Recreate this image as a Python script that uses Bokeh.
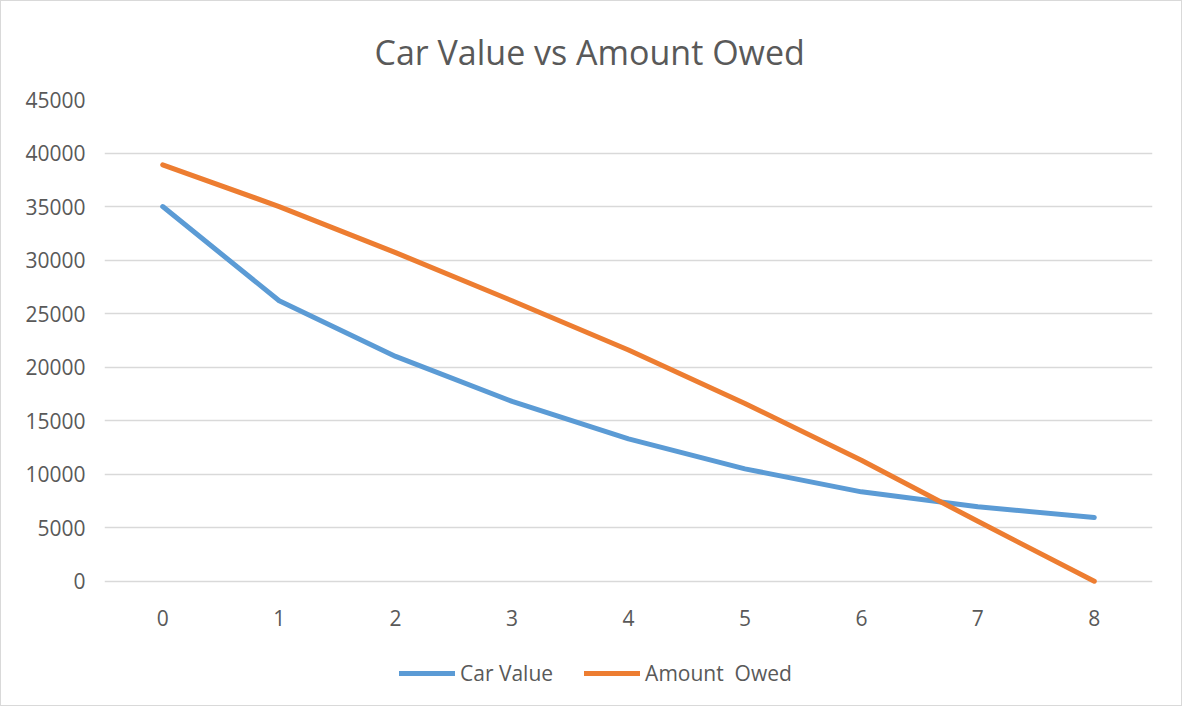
from bokeh.plotting import figure
from bokeh.models import Legend, LegendItem, FixedTicker, Range1d
from bokeh.embed import file_html
from bokeh.resources import INLINE

years = [0, 1, 2, 3, 4, 5, 6, 7, 8]
car_value = [35000, 26200, 21000, 16800, 13300, 10500, 8350, 6950, 5950]
amount_owed = [38900, 35000, 30700, 26200, 21600, 16600, 11300, 5600, 0]
y_ticks = [0, 5000, 10000, 15000, 20000, 25000, 30000, 35000, 40000, 45000]

FONT = "Open Sans"
TXT = "#595959"
GRID = "#d9d9d9"

# frame extends below zero so the legend can sit inside it; the x axis is pinned at y=0
p = figure(width=1182, height=706, output_backend="svg", toolbar_location=None,
           x_range=Range1d(-0.5, 8.5), y_range=Range1d(-10860, 45000),
           min_border_left=103, min_border_right=31, min_border_top=0, min_border_bottom=10)
p.styles = {"border": "1px solid #d9d9d9"}
p.outline_line_color = None
p.background_fill_color = "white"
p.border_fill_color = "white"

p.title.text = "Car Value vs Amount Owed"
p.title.align = "left"
p.title.offset = 270
p.title.text_font = FONT
p.title.text_font_size = "34px"
p.title.text_font_style = "normal"
p.title.text_color = TXT
p.title.standoff = 50

r1 = p.line(years, car_value, line_color="#5B9BD5", line_width=5, line_cap="round", line_join="round")
r2 = p.line(years, amount_owed, line_color="#ED7D31", line_width=5, line_cap="round", line_join="round")

p.xaxis.ticker = FixedTicker(ticks=years)
p.yaxis.ticker = FixedTicker(ticks=y_ticks)
p.xaxis.fixed_location = 0
for ax in (p.xaxis, p.yaxis):
    ax.axis_line_color = None
    ax.major_tick_line_color = None
    ax.minor_tick_line_color = None
    ax.major_tick_out = 0
    ax.major_tick_in = 0
    ax.major_label_text_font = FONT
    ax.major_label_text_font_size = "21px"
    ax.major_label_text_color = TXT
p.xaxis.major_label_standoff = 29
p.yaxis.major_label_standoff = 19
p.xgrid.grid_line_color = None
p.ygrid.grid_line_color = GRID
p.ygrid.grid_line_width = 1.3

legend = Legend(items=[LegendItem(label="Car Value", renderers=[r1]),
                       LegendItem(label="Amount  Owed", renderers=[r2])],
                orientation="horizontal", location=(295, 10),
                glyph_width=56, label_text_font=FONT, label_text_font_size="21px",
                label_text_color=TXT, border_line_color=None, background_fill_alpha=0,
                spacing=31, label_standoff=5, margin=0, padding=0)
p.add_layout(legend, "center")

open("out.html", "w").write(file_html(p, INLINE))
